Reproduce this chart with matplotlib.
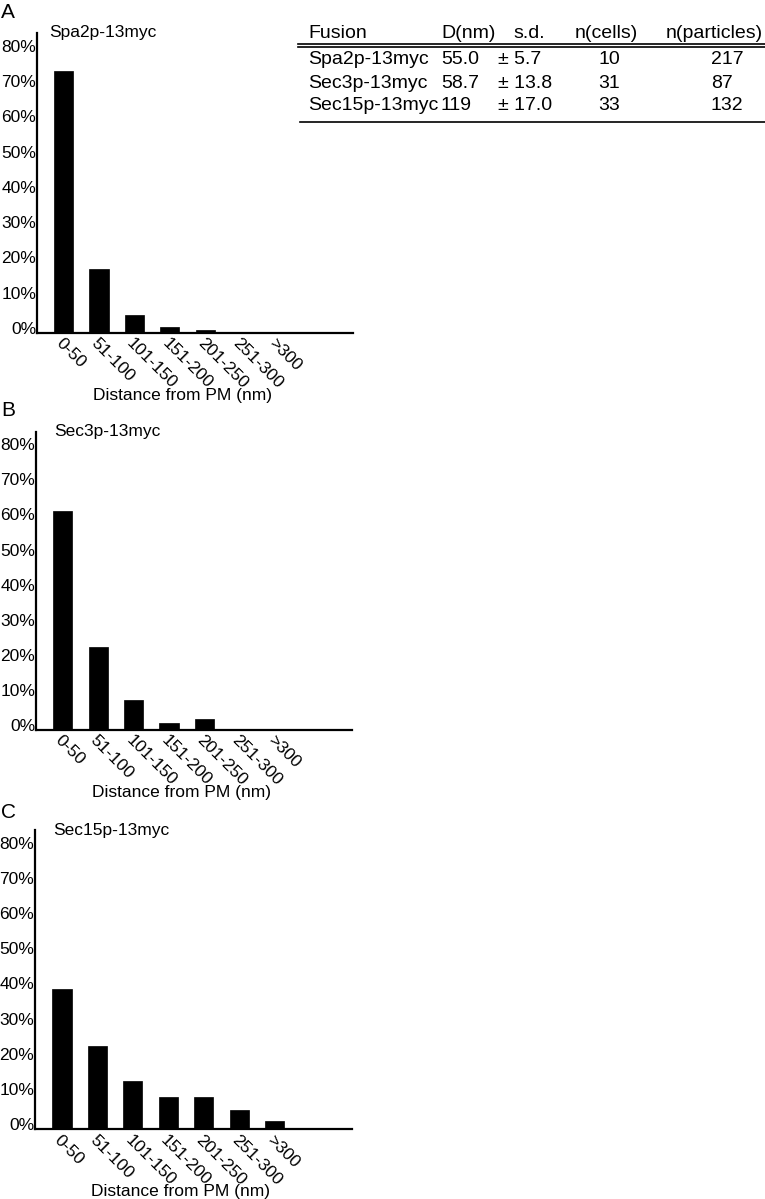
import matplotlib
matplotlib.use("Agg")
import matplotlib.pyplot as plt
import matplotlib.transforms as mtransforms
from matplotlib.lines import Line2D

plt.rcParams['font.family'] = ['Liberation Sans', 'DejaVu Sans']

# ---------------- data ----------------
categories = ["0-50", "51-100", "101-150", "151-200", "201-250", "251-300", ">300"]
spa2p = [74.1, 18.1, 5.0, 1.7, 0.9, 0.0, 0.0]
sec3p = [62.3, 23.7, 8.5, 1.9, 3.2, 0.0, 0.0]
sec15p = [39.8, 23.6, 13.7, 9.2, 9.2, 5.4, 2.4]
panel_titles = ["Spa2p-13myc", "Sec3p-13myc", "Sec15p-13myc"]
panel_letters = ["A", "B", "C"]
y_ticks = [0, 10, 20, 30, 40, 50, 60, 70, 80]
y_tick_labels = ["0%", "10%", "20%", "30%", "40%", "50%", "60%", "70%", "80%"]
x_label = "Distance from PM (nm)"

table_header = ["Fusion", "D(nm)", "s.d.", "n(cells)", "n(particles)"]
table_fusion = ["Spa2p-13myc", "Sec3p-13myc", "Sec15p-13myc"]
table_d = ["55.0", "58.7", "119"]
table_sd = ["\u00b1 5.7", "\u00b1 13.8", "\u00b1 17.0"]
table_cells = ["10", "31", "33"]
table_particles = ["217", "87", "132"]

# ---------------- figure ----------------
W, H = 765, 1199
fig = plt.figure(figsize=(W / 100, H / 100), dpi=100)

def fx(px):
    return px / W

def fy(py):
    return 1 - py / H

# (left px, right px, top px, baseline px, title x (axes frac), letter y px)
panels = [
    (36.7, 353.0, 33.0, 333.0, 0.039, 13),
    (36.0, 352.0, 431.7, 730.0, 0.057, 410),
    (35.0, 351.7, 830.0, 1129.3, 0.057, 813),
]
series = [spa2p, sec3p, sec15p]

label_offset = mtransforms.ScaledTranslation(0, 5 / 100, fig.dpi_scale_trans)

for (l, r, t, b, tx, ly), vals, title, letter in zip(panels, series, panel_titles, panel_letters):
    ax = fig.add_axes([fx(l), fy(b), (r - l) / W, (b - t) / H])
    xs = list(range(len(categories)))
    ax.bar(xs, vals, width=0.54, color="black", edgecolor="black", linewidth=0.5)
    ax.set_xlim(-0.76, 8.17)
    ax.set_ylim(0, 85)
    for s in ["top", "right"]:
        ax.spines[s].set_visible(False)
    for s in ["left", "bottom"]:
        ax.spines[s].set_linewidth(1.6)
        ax.spines[s].set_color("black")
    ax.set_yticks(y_ticks)
    ax.set_yticklabels(y_tick_labels)
    ax.tick_params(axis="y", length=0, pad=0.5, labelsize=12.5)
    for lab in ax.yaxis.get_majorticklabels():
        lab.set_transform(lab.get_transform() + label_offset)
    ax.set_xticks(xs)
    ax.set_xticklabels(categories, rotation=-45, ha="left", va="top",
                       rotation_mode="anchor", fontsize=12.5)
    ax.tick_params(axis="x", length=0, pad=2)
    ax.set_xlabel(x_label, fontsize=12.5, va="center")
    ax.xaxis.set_label_coords(0.46, -62 / (b - t))
    ax.text(tx, 1.0, title, transform=ax.transAxes, ha="left", va="center", fontsize=12.5)
    fig.text(fx(1), fy(ly), letter, ha="left", va="center", fontsize=15)

# ---------------- table ----------------
ts = 14
hy = 33.0
rows_y = [60.0, 83.0, 106.0]
fig.text(fx(308), fy(hy), table_header[0], ha="left", va="center", fontsize=ts)
fig.text(fx(441), fy(hy), table_header[1], ha="left", va="center", fontsize=ts)
fig.text(fx(529.5), fy(hy), table_header[2], ha="center", va="center", fontsize=ts)
fig.text(fx(606), fy(hy), table_header[3], ha="center", va="center", fontsize=ts)
fig.text(fx(763), fy(hy), table_header[4], ha="right", va="center", fontsize=ts)
for i, y in enumerate(rows_y):
    fig.text(fx(308), fy(y), table_fusion[i], ha="left", va="center", fontsize=ts)
    fig.text(fx(441), fy(y), table_d[i], ha="left", va="center", fontsize=ts)
    fig.text(fx(498), fy(y), table_sd[i], ha="left", va="center", fontsize=ts)
    fig.text(fx(609), fy(y), table_cells[i], ha="center", va="center", fontsize=ts)
    fig.text(fx(711), fy(y), table_particles[i], ha="left", va="center", fontsize=ts)

for yy, x0 in [(44.0, 298), (47.0, 298), (122.0, 300)]:
    fig.add_artist(Line2D([fx(x0), fx(765)], [fy(yy), fy(yy)], color="black",
                          linewidth=1.2, transform=fig.transFigure))

fig.savefig("out.png", dpi=100)
